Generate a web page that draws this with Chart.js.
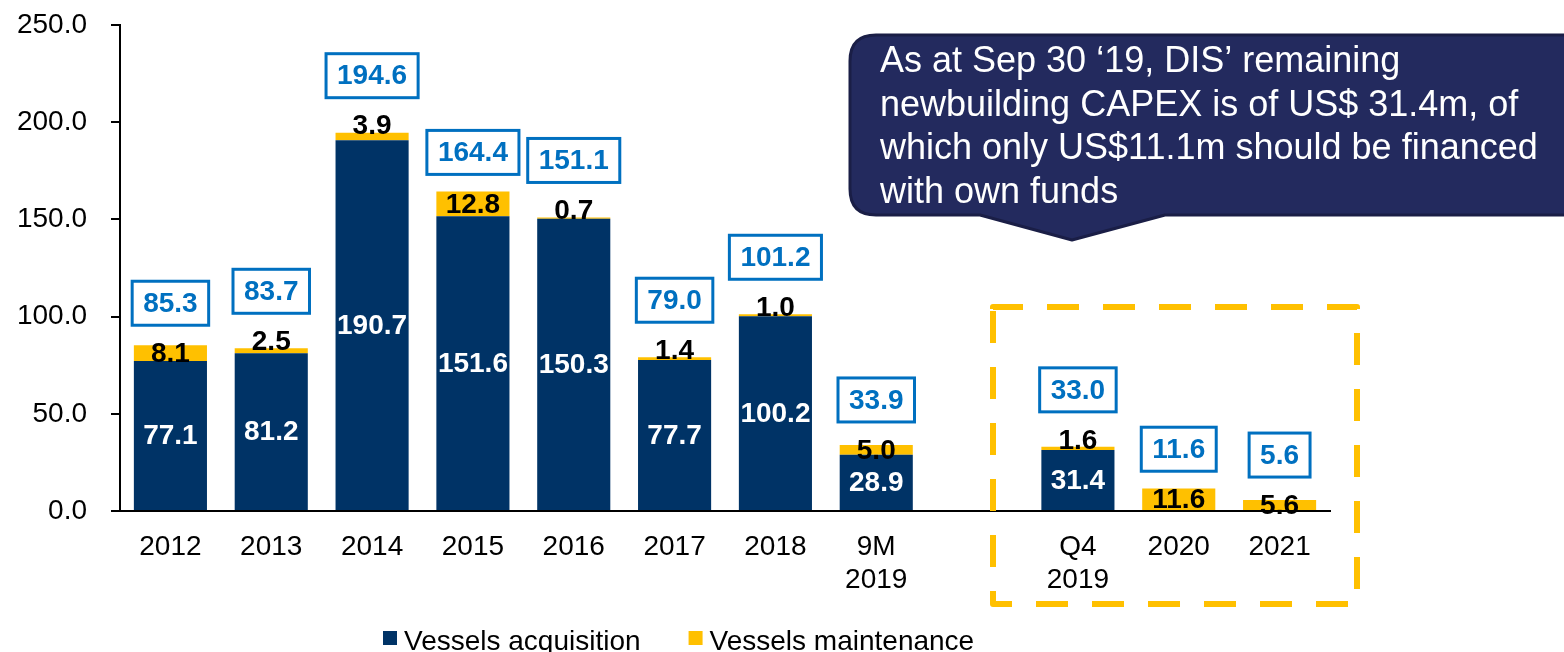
<!DOCTYPE html>
<html>
<head>
<meta charset="utf-8">
<script src="https://cdn.jsdelivr.net/npm/chart.js@4/dist/chart.umd.min.js"></script>
<style>
  html, body { margin: 0; padding: 0; background: #ffffff; }
  #wrap { width: 1564px; height: 652px; position: relative; }
</style>
</head>
<body>
<div id="wrap"><canvas id="c" width="1564" height="652"></canvas></div>
<script>
// ---- data ----
const categories = ['2012', '2013', '2014', '2015', '2016', '2017', '2018', ['9M', '2019'], '', ['Q4', '2019'], '2020', '2021'];
const vesselsAcquisition = [77.1, 81.2, 190.7, 151.6, 150.3, 77.7, 100.2, 28.9, null, 31.4, null, null];
const vesselsMaintenance = [8.1, 2.5, 3.9, 12.8, 0.7, 1.4, 1.0, 5.0, null, 1.6, 11.6, 5.6];
const totals = [85.3, 83.7, 194.6, 164.4, 151.1, 79.0, 101.2, 33.9, null, 33.0, 11.6, 5.6];
const seriesNames = ['Vessels acquisition', 'Vessels maintenance'];
const yTicks = [0, 50, 100, 150, 200, 250];
const calloutLines = [
  'As at Sep 30 \u201819, DIS\u2019 remaining',
  'newbuilding CAPEX is of US$ 31.4m, of',
  'which only US$11.1m should be financed',
  'with own funds'
];

// ---- styles ----
const FONT = '"Liberation Sans", Arial, Helvetica, sans-serif';
const NAVY = '#003366';
const YELLOW = '#FFC000';
const BLUE = '#0070C0';

const labelPlugin = {
  id: 'valueLabels',
  afterDatasetsDraw(chart) {
    const ctx = chart.ctx;
    const m0 = chart.getDatasetMeta(0);
    const m1 = chart.getDatasetMeta(1);
    ctx.save();
    ctx.font = 'bold 28px ' + FONT;
    ctx.textAlign = 'center';
    ctx.textBaseline = 'middle';
    for (let i = 0; i < categories.length; i++) {
      let topMost = Infinity;
      let xc = null;
      const a = vesselsAcquisition[i];
      if (a !== null) {
        const el = m0.data[i];
        xc = el.x;
        ctx.fillStyle = '#ffffff';
        ctx.fillText(a.toFixed(1), el.x, (el.y + el.base) / 2 + 1);
        topMost = Math.min(topMost, el.y);
      }
      const b = vesselsMaintenance[i];
      if (b !== null) {
        const el = m1.data[i];
        xc = el.x;
        const h = Math.abs(el.base - el.y);
        const ly = h < 8 ? el.y - 7 : (el.y + el.base) / 2;
        ctx.fillStyle = '#000000';
        ctx.fillText(b.toFixed(1), el.x, ly + 1);
        topMost = Math.min(topMost, el.y, ly - 11);
      }
      const t = totals[i];
      if (t !== null && xc !== null) {
        const txt = t.toFixed(1);
        const w = ctx.measureText(txt).width + 22;
        const bh = 44;
        const bottom = topMost - 17;
        ctx.fillStyle = '#ffffff';
        ctx.fillRect(xc - w / 2, bottom - bh, w, bh);
        ctx.strokeStyle = BLUE;
        ctx.lineWidth = 3;
        ctx.strokeRect(xc - w / 2, bottom - bh, w, bh);
        ctx.fillStyle = BLUE;
        ctx.fillText(txt, xc, bottom - bh / 2 + 1);
      }
    }
    ctx.restore();
  },
  afterDraw(chart) {
    const ctx = chart.ctx;
    ctx.save();
    // dashed forecast box
    ctx.strokeStyle = YELLOW;
    ctx.lineWidth = 6;
    ctx.setLineDash([32, 24]);
    ctx.lineJoin = 'round';
    ctx.beginPath();
    const L = 993, R = 1357, T = 307, B = 604;
    ctx.moveTo(L, T + 4);
    ctx.lineTo(L, B);
    ctx.lineTo(R, B);
    ctx.lineTo(R, T);
    ctx.lineTo(L, T);
    ctx.closePath();
    ctx.stroke();
    ctx.setLineDash([]);

    // callout
    const cl = 850, ct = 35, cr = 1620, cb = 215, rad = 26;
    ctx.beginPath();
    ctx.moveTo(cl + rad, ct);
    ctx.lineTo(cr, ct);
    ctx.lineTo(cr, cb);
    ctx.lineTo(1165, cb);
    ctx.lineTo(1072, 240);
    ctx.lineTo(980, cb);
    ctx.lineTo(cl + rad, cb);
    ctx.quadraticCurveTo(cl, cb, cl, cb - rad);
    ctx.lineTo(cl, ct + rad);
    ctx.quadraticCurveTo(cl, ct, cl + rad, ct);
    ctx.closePath();
    ctx.fillStyle = '#232A5E';
    ctx.fill();
    ctx.strokeStyle = '#1A1E46';
    ctx.lineWidth = 3;
    ctx.stroke();
    ctx.fillStyle = '#ffffff';
    ctx.font = '36px ' + FONT;
    ctx.textAlign = 'left';
    ctx.textBaseline = 'alphabetic';
    calloutLines.forEach((s, k) => ctx.fillText(s, 880, 72 + k * 43.7));

    // legend
    ctx.font = '28px ' + FONT;
    let lx = 383;
    const colors = [NAVY, YELLOW];
    seriesNames.forEach((name, k) => {
      ctx.fillStyle = colors[k];
      ctx.fillRect(lx, 631, 14, 14);
      ctx.fillStyle = '#000000';
      ctx.fillText(name, lx + 21, 650);
      lx += 21 + ctx.measureText(name).width + 48;
    });
    ctx.restore();
  }
};

new Chart(document.getElementById('c'), {
  type: 'bar',
  data: {
    labels: categories,
    datasets: [
      { label: seriesNames[0], data: vesselsAcquisition, backgroundColor: NAVY, borderWidth: 0 },
      { label: seriesNames[1], data: vesselsMaintenance, backgroundColor: YELLOW, borderWidth: 0 }
    ]
  },
  options: {
    responsive: false,
    devicePixelRatio: 1,
    animation: false,
    categoryPercentage: 1,
    barPercentage: 0.725,
    layout: { padding: { left: 0, right: 234, top: 25, bottom: 0 } },
    plugins: { legend: { display: false }, tooltip: { enabled: false } },
    scales: {
      x: {
        stacked: true,
        grid: { display: false, drawTicks: false },
        border: { display: true, color: '#000000', width: 2 },
        ticks: { color: '#000000', font: { family: FONT, size: 28, lineHeight: 1.18 }, padding: 20, maxRotation: 0, autoSkip: false },
        afterFit(s) { s.height = 141; s.paddingLeft = 0; s.paddingRight = 0; }
      },
      y: {
        stacked: true,
        min: 0,
        max: 250,
        afterBuildTicks(s) { s.ticks = yTicks.map(v => ({ value: v })); },
        grid: { drawOnChartArea: false, drawTicks: true, tickLength: 9, color: '#000000', lineWidth: 2 },
        border: { display: true, color: '#000000', width: 2 },
        ticks: { color: '#000000', font: { family: FONT, size: 28 }, padding: 24, callback: v => Number(v).toFixed(1) },
        afterFit(s) { s.width = 120; s.paddingTop = 0; s.paddingBottom = 0; }
      }
    }
  },
  plugins: [labelPlugin]
});
</script>
</body>
</html>
